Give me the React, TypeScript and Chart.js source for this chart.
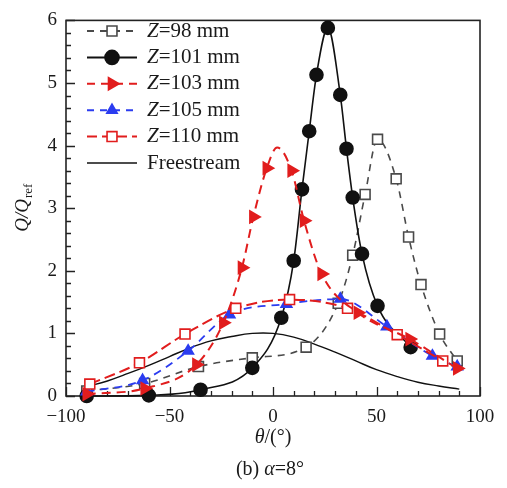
import React, { useEffect, useRef } from 'react';
import { Chart, registerables } from 'chart.js';

Chart.register(...registerables);

const SERIF = '"Liberation Serif", "DejaVu Serif", serif';

// ---- Data ----
const z98Theta = [-90, -62, -36, -10, 16, 31.5, 38.5, 44.5, 50.5, 59.5, 65.5, 71.5, 80.5, 89];
const z98Q = [0.08, 0.2, 0.47, 0.61, 0.78, 1.48, 2.25, 3.22, 4.1, 3.47, 2.54, 1.78, 0.99, 0.56];

const z101Theta = [-90, -60, -35, -10, 4, 10, 14, 17.5, 21, 26.5, 32.5, 35.5, 38.5, 43, 50.5, 66.5];
const z101Q = [0.0, 0.01, 0.1, 0.45, 1.25, 2.16, 3.3, 4.23, 5.13, 5.88, 4.81, 3.95, 3.17, 2.27, 1.44, 0.78];

const z103Theta = [-90, -62, -37, -24, -15, -9.5, -3, 2, 9, 15, 23.5, 41, 66, 89];
const z103Q = [0.03, 0.12, 0.5, 1.17, 2.05, 2.86, 3.64, 3.97, 3.6, 2.8, 1.95, 1.33, 0.91, 0.44];
const z103HasMarker = [true, true, true, true, true, true, true, false, true, true, true, true, true, true];

const z105Theta = [-90, -63, -41, -21, 6.5, 32.5, 55, 77, 89];
const z105Q = [0.07, 0.25, 0.72, 1.3, 1.47, 1.55, 1.11, 0.64, 0.47];

const z110Theta = [-88.5, -64.5, -42.5, -18, 8, 36, 60, 82];
const z110Q = [0.19, 0.53, 0.99, 1.4, 1.54, 1.4, 0.98, 0.56];

const freeTheta = [-90, -80, -70, -60, -50, -40, -30, -20, -10, 0, 10, 20, 30, 40, 50, 60, 70, 80, 90];
const freeQ = [0.15, 0.24, 0.36, 0.49, 0.63, 0.77, 0.88, 0.95, 1.0, 1.0, 0.94, 0.83, 0.7, 0.56, 0.42, 0.31, 0.22, 0.16, 0.11];

const seriesZ = ['98', '101', '103', '105', '110'];
const freestreamLabel = 'Freestream';
const xTitleMain = 'θ';
const xTitleRest = '/(°)';
const captionParts = ['(b) ', 'α', '=8°'];

// ---- Styles ----
const RED = '#e11d1d';
const BLUE = '#2b3cf0';
const GREY = '#4a4a4a';
const BLACK = '#111111';

function toPoints(xs: number[], ys: number[]) {
  return xs.map((x, i) => ({ x, y: ys[i] }));
}

type Marker = 'rect' | 'circle' | 'triangle' | null;

function drawMarker(
  ctx: CanvasRenderingContext2D,
  kind: Marker,
  x: number,
  y: number,
  r: number,
  rot: number,
  fill: string,
  stroke: string,
  lw: number
) {
  if (!kind) return;
  ctx.save();
  ctx.setLineDash([]);
  ctx.lineWidth = lw;
  ctx.strokeStyle = stroke;
  ctx.fillStyle = fill;
  ctx.beginPath();
  if (kind === 'circle') {
    ctx.arc(x, y, r, 0, Math.PI * 2);
  } else if (kind === 'rect') {
    const s = r * Math.SQRT1_2;
    ctx.rect(x - s, y - s, 2 * s, 2 * s);
  } else {
    let a = (rot * Math.PI) / 180;
    for (let k = 0; k < 3; k++) {
      const px = x + Math.sin(a) * r;
      const py = y - Math.cos(a) * r;
      if (k === 0) ctx.moveTo(px, py);
      else ctx.lineTo(px, py);
      a += (2 * Math.PI) / 3;
    }
    ctx.closePath();
  }
  ctx.fill();
  ctx.stroke();
  ctx.restore();
}

const legendEntries: {
  z: string | null;
  color: string;
  dash: number[];
  width: number;
  marker: Marker;
  fill: string;
  r: number;
  rot: number;
}[] = [
  { z: seriesZ[0], color: GREY, dash: [7, 6], width: 1.8, marker: 'rect', fill: '#ffffff', r: 7, rot: 0 },
  { z: seriesZ[1], color: BLACK, dash: [], width: 2, marker: 'circle', fill: BLACK, r: 7, rot: 0 },
  { z: seriesZ[2], color: RED, dash: [8, 6], width: 2, marker: 'triangle', fill: RED, r: 7, rot: 90 },
  { z: seriesZ[3], color: BLUE, dash: [7, 6], width: 2, marker: 'triangle', fill: BLUE, r: 6, rot: 0 },
  { z: seriesZ[4], color: RED, dash: [10, 5], width: 2, marker: 'rect', fill: '#ffffff', r: 7, rot: 0 },
  { z: null, color: BLACK, dash: [], width: 1.6, marker: null, fill: BLACK, r: 0, rot: 0 },
];

const framePlugin = {
  id: 'frameTicks',
  beforeDatasetsDraw(chart: any) {
    const { ctx, chartArea: a, scales } = chart;
    ctx.save();
    ctx.strokeStyle = '#222222';
    ctx.lineWidth = 1.6;
    ctx.setLineDash([]);
    ctx.strokeRect(a.left, a.top, a.right - a.left, a.bottom - a.top);
    ctx.lineWidth = 1.3;
    ctx.beginPath();
    for (let k = 0; k <= 20; k++) {
      const v = -100 + k * 10;
      const px = Math.round(scales.x.getPixelForValue(v)) + 0.5;
      const L = k % 5 === 0 ? 9 : 5;
      ctx.moveTo(px, a.bottom);
      ctx.lineTo(px, a.bottom - L);
    }
    for (let k = 0; k <= 30; k++) {
      const v = k * 0.2;
      const py = Math.round(scales.y.getPixelForValue(v)) + 0.5;
      const L = k % 5 === 0 ? 9 : 5;
      ctx.moveTo(a.left, py);
      ctx.lineTo(a.left + L, py);
    }
    ctx.stroke();
    ctx.restore();
  },
};

const textPlugin = {
  id: 'textAndLegend',
  afterDraw(chart: any) {
    const { ctx, chartArea: a } = chart;
    ctx.save();
    ctx.fillStyle = '#1a1a1a';
    ctx.textBaseline = 'middle';
    ctx.textAlign = 'left';

    // Legend
    const x0 = 87;
    const x1 = 137;
    const tx = 147;
    legendEntries.forEach((e, i) => {
      const y = 31 + i * 26.4;
      ctx.save();
      ctx.strokeStyle = e.color;
      ctx.lineWidth = e.width;
      ctx.setLineDash(e.dash);
      ctx.beginPath();
      ctx.moveTo(x0, y);
      ctx.lineTo(x1, y);
      ctx.stroke();
      ctx.restore();
      drawMarker(ctx, e.marker, (x0 + x1) / 2, y, e.r, e.rot, e.fill, e.color, 1.6);
      ctx.fillStyle = '#1a1a1a';
      if (e.z) {
        ctx.font = `italic 21px ${SERIF}`;
        ctx.fillText('Z', tx, y);
        const w = ctx.measureText('Z').width;
        ctx.font = `21px ${SERIF}`;
        ctx.fillText(`=${e.z} mm`, tx + w, y);
      } else {
        ctx.font = `21px ${SERIF}`;
        ctx.fillText(freestreamLabel, tx, y);
      }
    });

    // X title
    const cx = (a.left + a.right) / 2;
    ctx.font = `italic 20px ${SERIF}`;
    const w1 = ctx.measureText(xTitleMain).width;
    ctx.font = `20px ${SERIF}`;
    const w2 = ctx.measureText(xTitleRest).width;
    let sx = cx - (w1 + w2) / 2;
    ctx.font = `italic 20px ${SERIF}`;
    ctx.fillText(xTitleMain, sx, 438);
    ctx.font = `20px ${SERIF}`;
    ctx.fillText(xTitleRest, sx + w1, 438);

    // Caption
    ctx.font = `20px ${SERIF}`;
    const c0 = ctx.measureText(captionParts[0]).width;
    ctx.font = `italic 20px ${SERIF}`;
    const c1 = ctx.measureText(captionParts[1]).width;
    ctx.font = `20px ${SERIF}`;
    const c2 = ctx.measureText(captionParts[2]).width;
    sx = cx - 3 - (c0 + c1 + c2) / 2;
    ctx.font = `20px ${SERIF}`;
    ctx.fillText(captionParts[0], sx, 470);
    ctx.font = `italic 20px ${SERIF}`;
    ctx.fillText(captionParts[1], sx + c0, 470);
    ctx.font = `20px ${SERIF}`;
    ctx.fillText(captionParts[2], sx + c0 + c1, 470);

    // Y title  Q/Q_ref rotated
    const cy = (a.top + a.bottom) / 2;
    ctx.translate(28, cy);
    ctx.rotate(-Math.PI / 2);
    ctx.textBaseline = 'alphabetic';
    ctx.font = `italic 19px ${SERIF}`;
    const q = 'Q/Q';
    const wq = ctx.measureText(q).width;
    ctx.font = `13px ${SERIF}`;
    const wr = ctx.measureText('ref').width;
    const start = -(wq + wr) / 2;
    ctx.font = `italic 19px ${SERIF}`;
    ctx.fillText(q, start, 0);
    ctx.font = `13px ${SERIF}`;
    ctx.fillText('ref', start + wq + 1, 4);
    ctx.restore();
  },
};

export default function App() {
  const ref = useRef<HTMLCanvasElement | null>(null);

  useEffect(() => {
    document.body.style.margin = '0';
    const canvas = ref.current;
    if (!canvas) return;

    const common = {
      showLine: true,
      fill: false,
      clip: false as const,
      cubicInterpolationMode: 'monotone' as const,
    };

    const chart = new Chart(canvas, {
      type: 'line',
      data: {
        datasets: [
          {
            ...common,
            label: 'Z=98 mm',
            data: toPoints(z98Theta, z98Q),
            borderColor: GREY,
            borderWidth: 1.6,
            borderDash: [7, 6],
            pointStyle: 'rect',
            pointRadius: 7,
            pointBorderWidth: 1.6,
            pointBackgroundColor: '#ffffff',
            pointBorderColor: GREY,
            order: 4,
          },
          {
            ...common,
            label: 'Z=101 mm',
            data: toPoints(z101Theta, z101Q),
            borderColor: BLACK,
            borderWidth: 1.6,
            pointStyle: 'circle',
            pointRadius: 6.5,
            pointBackgroundColor: BLACK,
            pointBorderColor: BLACK,
            order: 3,
          },
          {
            ...common,
            label: 'Z=103 mm',
            data: toPoints(z103Theta, z103Q),
            borderColor: RED,
            borderWidth: 2,
            borderDash: [9, 6],
            pointStyle: 'triangle',
            pointRotation: 90,
            pointRadius: z103HasMarker.map((m) => (m ? 6.5 : 0)),
            pointBackgroundColor: RED,
            pointBorderColor: RED,
            order: 0,
          },
          {
            ...common,
            label: 'Z=105 mm',
            data: toPoints(z105Theta, z105Q),
            borderColor: BLUE,
            borderWidth: 1.8,
            borderDash: [8, 6],
            pointStyle: 'triangle',
            pointRadius: 6,
            pointBackgroundColor: BLUE,
            pointBorderColor: BLUE,
            order: 2,
          },
          {
            ...common,
            label: 'Z=110 mm',
            data: toPoints(z110Theta, z110Q),
            borderColor: RED,
            borderWidth: 2,
            borderDash: [11, 5],
            pointStyle: 'rect',
            pointRadius: 7,
            pointBorderWidth: 1.6,
            pointBackgroundColor: '#ffffff',
            pointBorderColor: RED,
            order: 1,
          },
          {
            ...common,
            label: freestreamLabel,
            data: toPoints(freeTheta, freeQ),
            borderColor: BLACK,
            borderWidth: 1.4,
            pointRadius: 0,
            cubicInterpolationMode: 'default' as const,
            tension: 0.4,
            order: 5,
          },
        ],
      },
      options: {
        animation: false,
        responsive: true,
        maintainAspectRatio: false,
        layout: { padding: { top: 12, right: 27, left: 0, bottom: 0 } },
        plugins: {
          legend: { display: false },
          tooltip: { enabled: false },
          title: { display: false },
        },
        events: [],
        scales: {
          x: {
            type: 'linear',
            min: -100,
            max: 100,
            grid: { display: false, drawTicks: false },
            border: { display: false },
            ticks: {
              stepSize: 50,
              padding: 10,
              color: '#1a1a1a',
              font: { family: SERIF, size: 19 },
              maxRotation: 0,
              callback: (v: any) => (Number(v) < 0 ? '\u2212' + Math.abs(Number(v)) : String(v)),
            },
            afterFit: (scale: any) => {
              scale.height = 92;
            },
          },
          y: {
            type: 'linear',
            min: 0,
            max: 6,
            grid: { display: false, drawTicks: false },
            border: { display: false },
            ticks: {
              stepSize: 1,
              padding: 9,
              color: '#1a1a1a',
              font: { family: SERIF, size: 19 },
            },
            afterFit: (scale: any) => {
              scale.width = 66;
            },
          },
        },
      },
      plugins: [framePlugin, textPlugin],
    });

    return () => chart.destroy();
  }, []);

  return (
    <div style={{ width: 507, height: 488, position: 'relative', background: '#ffffff' }}>
      <canvas ref={ref} />
    </div>
  );
}
